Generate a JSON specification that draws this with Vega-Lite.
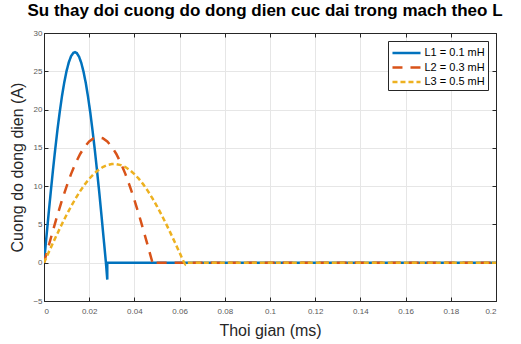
{
  "$schema": "https://vega.github.io/schema/vega-lite/v6.json",
  "width": 452,
  "height": 268,
  "autosize": "none",
  "padding": {"left": 44, "top": 33, "right": 25, "bottom": 43},
  "background": "white",
  "title": {
    "text": "Su thay doi cuong do dong dien cuc dai trong mach theo L",
    "font": "Liberation Sans",
    "fontSize": 17,
    "fontWeight": "bold",
    "color": "#000000",
    "anchor": "middle",
    "dx": -5,
    "offset": 9
  },
  "data": {
    "values": [
      {"L": "L1 = 0.1 mH", "n": 0, "t": 0, "i": 0},
      {"L": "L1 = 0.1 mH", "n": 1, "t": 0.001, "i": 3.15},
      {"L": "L1 = 0.1 mH", "n": 2, "t": 0.002, "i": 6.25},
      {"L": "L1 = 0.1 mH", "n": 3, "t": 0.003, "i": 9.28},
      {"L": "L1 = 0.1 mH", "n": 4, "t": 0.004, "i": 12.18},
      {"L": "L1 = 0.1 mH", "n": 5, "t": 0.005, "i": 14.92},
      {"L": "L1 = 0.1 mH", "n": 6, "t": 0.006, "i": 17.47},
      {"L": "L1 = 0.1 mH", "n": 7, "t": 0.007, "i": 19.77},
      {"L": "L1 = 0.1 mH", "n": 8, "t": 0.008, "i": 21.84},
      {"L": "L1 = 0.1 mH", "n": 9, "t": 0.009, "i": 23.6},
      {"L": "L1 = 0.1 mH", "n": 10, "t": 0.010, "i": 25.06},
      {"L": "L1 = 0.1 mH", "n": 11, "t": 0.011, "i": 26.2},
      {"L": "L1 = 0.1 mH", "n": 12, "t": 0.012, "i": 26.98},
      {"L": "L1 = 0.1 mH", "n": 13, "t": 0.013, "i": 27.41},
      {"L": "L1 = 0.1 mH", "n": 14, "t": 0.0137, "i": 27.5},
      {"L": "L1 = 0.1 mH", "n": 15, "t": 0.0145, "i": 27.38},
      {"L": "L1 = 0.1 mH", "n": 16, "t": 0.0155, "i": 26.91},
      {"L": "L1 = 0.1 mH", "n": 17, "t": 0.0165, "i": 26.1},
      {"L": "L1 = 0.1 mH", "n": 18, "t": 0.0175, "i": 24.93},
      {"L": "L1 = 0.1 mH", "n": 19, "t": 0.0185, "i": 23.45},
      {"L": "L1 = 0.1 mH", "n": 20, "t": 0.0195, "i": 21.63},
      {"L": "L1 = 0.1 mH", "n": 21, "t": 0.0205, "i": 19.56},
      {"L": "L1 = 0.1 mH", "n": 22, "t": 0.0215, "i": 17.22},
      {"L": "L1 = 0.1 mH", "n": 23, "t": 0.0225, "i": 14.68},
      {"L": "L1 = 0.1 mH", "n": 24, "t": 0.0235, "i": 11.93},
      {"L": "L1 = 0.1 mH", "n": 25, "t": 0.0245, "i": 9.03},
      {"L": "L1 = 0.1 mH", "n": 26, "t": 0.0255, "i": 5.97},
      {"L": "L1 = 0.1 mH", "n": 27, "t": 0.0265, "i": 2.83},
      {"L": "L1 = 0.1 mH", "n": 28, "t": 0.0274, "i": 0},
      {"L": "L1 = 0.1 mH", "n": 29, "t": 0.028, "i": -2.2},
      {"L": "L1 = 0.1 mH", "n": 30, "t": 0.028, "i": 0},
      {"L": "L1 = 0.1 mH", "n": 31, "t": 0.2, "i": 0},

      {"L": "L2 = 0.3 mH", "n": 0, "t": 0, "i": 0},
      {"L": "L2 = 0.3 mH", "n": 1, "t": 0.002, "i": 2.14},
      {"L": "L2 = 0.3 mH", "n": 2, "t": 0.004, "i": 4.24},
      {"L": "L2 = 0.3 mH", "n": 3, "t": 0.006, "i": 6.28},
      {"L": "L2 = 0.3 mH", "n": 4, "t": 0.008, "i": 8.2},
      {"L": "L2 = 0.3 mH", "n": 5, "t": 0.010, "i": 9.98},
      {"L": "L2 = 0.3 mH", "n": 6, "t": 0.012, "i": 11.6},
      {"L": "L2 = 0.3 mH", "n": 7, "t": 0.014, "i": 13.01},
      {"L": "L2 = 0.3 mH", "n": 8, "t": 0.016, "i": 14.2},
      {"L": "L2 = 0.3 mH", "n": 9, "t": 0.018, "i": 15.15},
      {"L": "L2 = 0.3 mH", "n": 10, "t": 0.020, "i": 15.84},
      {"L": "L2 = 0.3 mH", "n": 11, "t": 0.022, "i": 16.26},
      {"L": "L2 = 0.3 mH", "n": 12, "t": 0.024, "i": 16.4},
      {"L": "L2 = 0.3 mH", "n": 13, "t": 0.026, "i": 16.26},
      {"L": "L2 = 0.3 mH", "n": 14, "t": 0.028, "i": 15.84},
      {"L": "L2 = 0.3 mH", "n": 15, "t": 0.030, "i": 15.15},
      {"L": "L2 = 0.3 mH", "n": 16, "t": 0.032, "i": 14.2},
      {"L": "L2 = 0.3 mH", "n": 17, "t": 0.034, "i": 13.01},
      {"L": "L2 = 0.3 mH", "n": 18, "t": 0.036, "i": 11.6},
      {"L": "L2 = 0.3 mH", "n": 19, "t": 0.038, "i": 9.98},
      {"L": "L2 = 0.3 mH", "n": 20, "t": 0.040, "i": 8.2},
      {"L": "L2 = 0.3 mH", "n": 21, "t": 0.042, "i": 6.28},
      {"L": "L2 = 0.3 mH", "n": 22, "t": 0.044, "i": 4.24},
      {"L": "L2 = 0.3 mH", "n": 23, "t": 0.046, "i": 2.14},
      {"L": "L2 = 0.3 mH", "n": 24, "t": 0.048, "i": 0},
      {"L": "L2 = 0.3 mH", "n": 25, "t": 0.0485, "i": -0.3},
      {"L": "L2 = 0.3 mH", "n": 26, "t": 0.049, "i": 0},
      {"L": "L2 = 0.3 mH", "n": 27, "t": 0.2, "i": 0},

      {"L": "L3 = 0.5 mH", "n": 0, "t": 0, "i": 0},
      {"L": "L3 = 0.5 mH", "n": 1, "t": 0.002, "i": 1.31},
      {"L": "L3 = 0.5 mH", "n": 2, "t": 0.004, "i": 2.6},
      {"L": "L3 = 0.5 mH", "n": 3, "t": 0.006, "i": 3.86},
      {"L": "L3 = 0.5 mH", "n": 4, "t": 0.008, "i": 5.09},
      {"L": "L3 = 0.5 mH", "n": 5, "t": 0.010, "i": 6.26},
      {"L": "L3 = 0.5 mH", "n": 6, "t": 0.012, "i": 7.37},
      {"L": "L3 = 0.5 mH", "n": 7, "t": 0.014, "i": 8.4},
      {"L": "L3 = 0.5 mH", "n": 8, "t": 0.016, "i": 9.35},
      {"L": "L3 = 0.5 mH", "n": 9, "t": 0.018, "i": 10.2},
      {"L": "L3 = 0.5 mH", "n": 10, "t": 0.020, "i": 10.95},
      {"L": "L3 = 0.5 mH", "n": 11, "t": 0.022, "i": 11.58},
      {"L": "L3 = 0.5 mH", "n": 12, "t": 0.024, "i": 12.09},
      {"L": "L3 = 0.5 mH", "n": 13, "t": 0.026, "i": 12.49},
      {"L": "L3 = 0.5 mH", "n": 14, "t": 0.028, "i": 12.75},
      {"L": "L3 = 0.5 mH", "n": 15, "t": 0.030, "i": 12.88},
      {"L": "L3 = 0.5 mH", "n": 16, "t": 0.031, "i": 12.9},
      {"L": "L3 = 0.5 mH", "n": 17, "t": 0.032, "i": 12.88},
      {"L": "L3 = 0.5 mH", "n": 18, "t": 0.034, "i": 12.75},
      {"L": "L3 = 0.5 mH", "n": 19, "t": 0.036, "i": 12.49},
      {"L": "L3 = 0.5 mH", "n": 20, "t": 0.038, "i": 12.09},
      {"L": "L3 = 0.5 mH", "n": 21, "t": 0.040, "i": 11.58},
      {"L": "L3 = 0.5 mH", "n": 22, "t": 0.042, "i": 10.95},
      {"L": "L3 = 0.5 mH", "n": 23, "t": 0.044, "i": 10.2},
      {"L": "L3 = 0.5 mH", "n": 24, "t": 0.046, "i": 9.35},
      {"L": "L3 = 0.5 mH", "n": 25, "t": 0.048, "i": 8.4},
      {"L": "L3 = 0.5 mH", "n": 26, "t": 0.050, "i": 7.37},
      {"L": "L3 = 0.5 mH", "n": 27, "t": 0.052, "i": 6.26},
      {"L": "L3 = 0.5 mH", "n": 28, "t": 0.054, "i": 5.09},
      {"L": "L3 = 0.5 mH", "n": 29, "t": 0.056, "i": 3.86},
      {"L": "L3 = 0.5 mH", "n": 30, "t": 0.058, "i": 2.6},
      {"L": "L3 = 0.5 mH", "n": 31, "t": 0.060, "i": 1.31},
      {"L": "L3 = 0.5 mH", "n": 32, "t": 0.062, "i": 0},
      {"L": "L3 = 0.5 mH", "n": 33, "t": 0.0625, "i": -0.2},
      {"L": "L3 = 0.5 mH", "n": 34, "t": 0.063, "i": 0},
      {"L": "L3 = 0.5 mH", "n": 35, "t": 0.2, "i": 0}
    ]
  },
  "layer": [
    {
      "mark": {"type": "line", "strokeWidth": 2.5, "clip": true},
      "encoding": {
        "x": {
          "field": "t", "type": "quantitative",
          "scale": {"domain": [0, 0.2], "nice": false, "zero": false},
          "axis": {
            "title": "Thoi gian (ms)",
            "values": [0, 0.02, 0.04, 0.06, 0.08, 0.1, 0.12, 0.14, 0.16, 0.18, 0.2],
            "labelExpr": "datum.value === 0 ? '0' : format(datum.value, '.2~f')",
            "labelPadding": 10,
            "titlePadding": 7
          }
        },
        "y": {
          "field": "i", "type": "quantitative",
          "scale": {"domain": [-5, 30], "nice": false, "zero": false},
          "axis": {
            "title": "Cuong do dong dien (A)",
            "values": [-5, 0, 5, 10, 15, 20, 25, 30],
            "titlePadding": 7
          }
        },
        "order": {"field": "n", "type": "quantitative"},
        "color": {
          "field": "L", "type": "nominal",
          "scale": {
            "domain": ["L1 = 0.1 mH", "L2 = 0.3 mH", "L3 = 0.5 mH"],
            "range": ["#0072BD", "#D95319", "#EDB120"]
          },
          "legend": {"title": null}
        },
        "strokeDash": {
          "field": "L", "type": "nominal",
          "scale": {
            "domain": ["L1 = 0.1 mH", "L2 = 0.3 mH", "L3 = 0.5 mH"],
            "range": [[1, 0], [10, 8], [5, 3]]
          },
          "legend": {"title": null}
        }
      }
    },
    {
      "mark": {"type": "rule", "opacity": 0},
      "encoding": {
        "x": {
          "field": "t", "type": "quantitative",
          "axis": {
            "orient": "top", "title": null, "labels": false, "grid": false,
            "values": [0, 0.02, 0.04, 0.06, 0.08, 0.1, 0.12, 0.14, 0.16, 0.18, 0.2]
          }
        },
        "y": {
          "field": "i", "type": "quantitative",
          "axis": {
            "orient": "right", "title": null, "labels": false, "grid": false,
            "values": [-5, 0, 5, 10, 15, 20, 25, 30]
          }
        }
      }
    }
  ],
  "resolve": {"axis": {"x": "independent", "y": "independent"}},
  "config": {
    "view": {"stroke": "#262626", "strokeWidth": 1},
    "axis": {
      "domainColor": "#262626",
      "tickColor": "#262626",
      "tickSize": -4,
      "grid": true,
      "gridColor": "#e6e6e6",
      "labelFont": "Liberation Sans",
      "labelFontSize": 8,
      "labelColor": "#5a5a5a",
      "labelPadding": 6,
      "titleFont": "Liberation Sans",
      "titleFontSize": 16,
      "titleFontWeight": "normal",
      "titleColor": "#262626"
    },
    "legend": {
      "orient": "top-right",
      "offset": 8,
      "strokeColor": "#262626",
      "fillColor": "white",
      "padding": 3,
      "rowPadding": 0.5,
      "symbolType": "M-1.87,0H1.87",
      "symbolSize": 225,
      "symbolOffset": 6.5,
      "symbolStrokeWidth": 2.5,
      "labelFont": "Liberation Sans",
      "labelFontSize": 11,
      "labelColor": "#000000",
      "labelOffset": 9
    }
  }
}
